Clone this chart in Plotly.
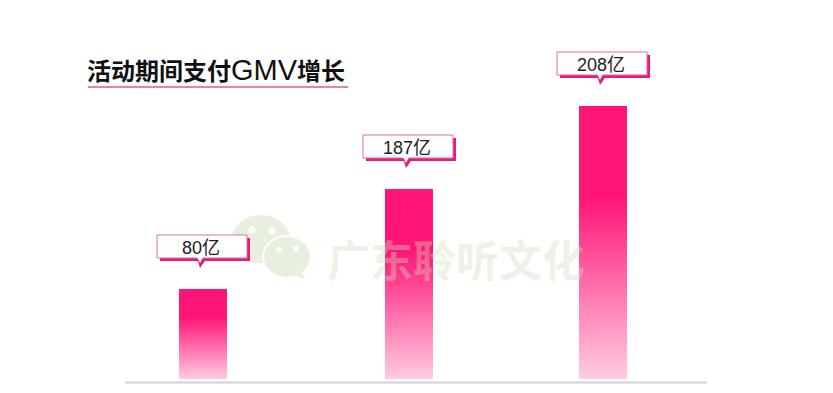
import plotly.graph_objects as go

positions = [0, 206, 400]
bar_heights = [90, 190, 273]
labels = ["80亿", "187亿", "208亿"]
fade_from = [62, 128, 182]      # height at which the fade starts to become visible
title_a = "活动期间支付"
title_b = "GMV"
title_c = "增长"
watermark = "广东聆听文化"

PINK = "#ff1577"
BAR_W = 48
X0, X1 = -203, 630   # 833 px wide
Y0, Y1 = -14, 379    # 393 px tall

fig = go.Figure()
fig.add_trace(go.Bar(x=positions, y=bar_heights, width=BAR_W,
                     marker=dict(color=PINK, line=dict(width=0)),
                     showlegend=False, hoverinfo="skip"))

# white fade on top of each bar
for x, h, f in zip(positions, bar_heights, fade_from):
    fig.add_trace(go.Scatter(
        x=[x - BAR_W / 2, x + BAR_W / 2, x + BAR_W / 2, x - BAR_W / 2, x - BAR_W / 2],
        y=[0, 0, f, f, 0], mode="lines", line=dict(width=0), fill="toself",
        fillgradient=dict(type="vertical", start=0, stop=f,
                          colorscale=[[0, "rgba(255,255,255,0.78)"], [1, "rgba(255,255,255,0)"]]),
        showlegend=False, hoverinfo="skip"))

shapes = []
annotations = []

# callouts
for x, h, lab in zip(positions, bar_heights, labels):
    L, R = x - 46, x + 44
    T, B = h + 54, h + 31
    shapes.append(dict(type="rect", xref="x", yref="y", x0=L + 3, x1=R + 3, y0=B - 3, y1=T - 3,
                       fillcolor="#ea1a7c", line=dict(width=0), layer="above"))
    shapes.append(dict(type="path", xref="x", yref="y",
                       path=f"M {x-6} {B} L {x-3} {B-10} L {x+4} {B} Z",
                       fillcolor="#ea1a7c", line=dict(width=0), layer="above"))
    shapes.append(dict(type="rect", xref="x", yref="y", x0=L, x1=R, y0=B, y1=T,
                       fillcolor="white", line=dict(width=1, color="#d9709f"), layer="above"))
    shapes.append(dict(type="path", xref="x", yref="y",
                       path=f"M {x-6} {B+1} L {x-3} {B-5} L {x} {B+1} Z",
                       fillcolor="white", line=dict(width=0), layer="above"))
    annotations.append(dict(x=x - 2, y=(T + B) / 2 - 1, xref="x", yref="y", text=lab, showarrow=False,
                            font=dict(family="Liberation Sans, Noto Sans CJK SC", size=18, color="#222222")))

# title and underline
annotations.append(dict(x=85 / 833, y=1 - 70 / 393, xref="paper", yref="paper", xanchor="left", yanchor="middle",
                        text=f"<b>{title_a}</b><span style=\"font-size:29px\">{title_b}</span><b>{title_c}</b>",
                        showarrow=False,
                        font=dict(family="Liberation Sans, Noto Sans CJK SC", size=24, color="#111111")))
shapes.append(dict(type="line", xref="paper", yref="paper", x0=88 / 833, x1=348 / 833,
                   y0=1 - 87 / 393, y1=1 - 87 / 393, line=dict(color="#ee7fa9", width=2)))

# baseline
shapes.append(dict(type="line", xref="paper", yref="paper", x0=125 / 833, x1=707 / 833,
                   y0=1 - 382.5 / 393, y1=1 - 382.5 / 393, line=dict(color="#d2d2d2", width=2)))

# watermark (paper coordinates)
def px(x):
    return x / 833

def py(y):
    return 1 - y / 393

def ell(cx, cy, rx, ry, color, lw=0, lc="white"):
    return dict(type="circle", xref="paper", yref="paper", x0=px(cx - rx), x1=px(cx + rx),
                y0=py(cy + ry), y1=py(cy - ry), fillcolor=color,
                line=dict(width=lw, color=lc), layer="below")

GREEN = "#e9efdf"
shapes += [ell(261, 239, 29, 24, GREEN), ell(287, 257, 24, 21, GREEN, 2),
           ell(252, 230, 3.5, 3.5, "white"), ell(272, 231, 3.5, 3.5, "white"),
           ell(279, 250, 3, 3, "white"), ell(296, 249, 3, 3, "white"),
           dict(type="path", xref="paper", yref="paper", layer="below", fillcolor=GREEN, line=dict(width=0),
                path=f"M {px(294)} {py(275)} L {px(305)} {py(279)} L {px(301)} {py(270)} Z")]
annotations.append(dict(x=456 / 833, y=1 - 258 / 393, xref="paper", yref="paper", text=f"<b>{watermark}</b>",
                        showarrow=False,
                        font=dict(family="Noto Sans CJK SC", size=43, color="rgba(205,225,190,0.38)")))

fig.update_layout(
    width=833, height=393, margin=dict(l=0, r=0, t=0, b=0, pad=0),
    paper_bgcolor="white", plot_bgcolor="white", showlegend=False,
    xaxis=dict(range=[X0, X1], visible=False, fixedrange=True),
    yaxis=dict(range=[Y0, Y1], visible=False, fixedrange=True),
    shapes=shapes, annotations=annotations,
)
fig.write_html("out.html", config=dict(displayModeBar=False, responsive=False),
               post_script="document.body.style.margin='0';document.body.style.overflow='hidden';")
